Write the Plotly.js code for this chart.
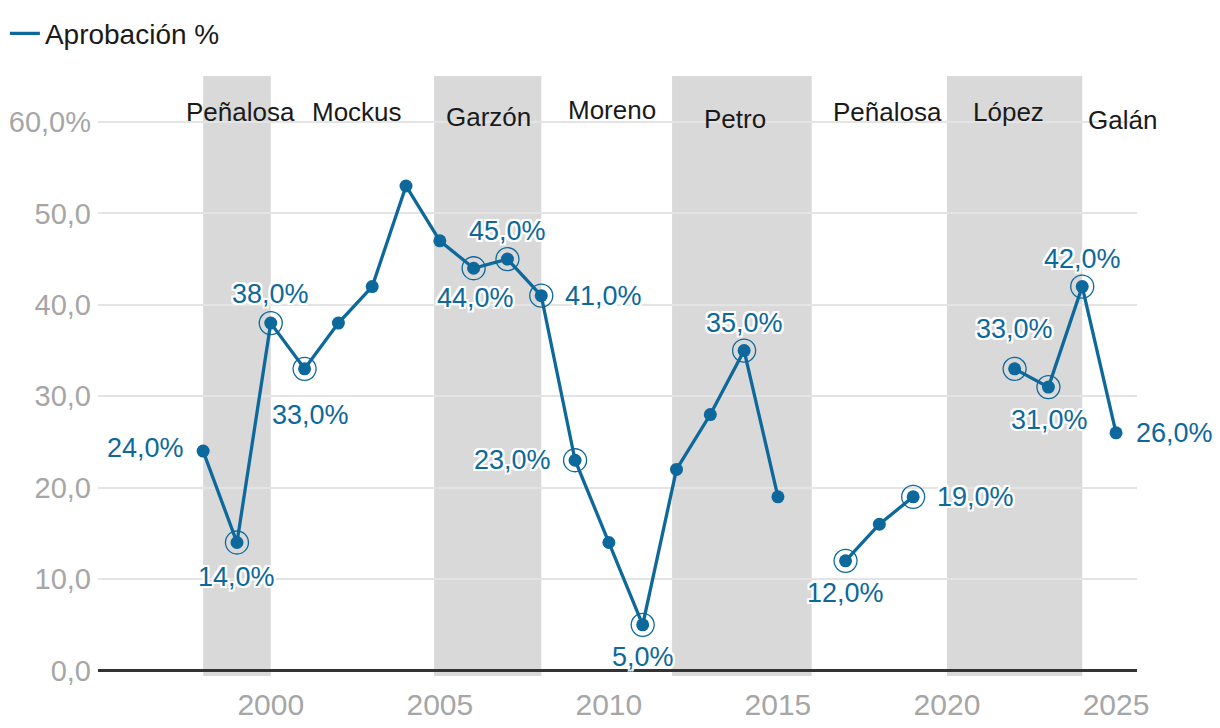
<!DOCTYPE html>
<html>
<head>
<meta charset="utf-8">
<script src="https://cdn.plot.ly/plotly-3.0.1.min.js"></script>
<style>html,body{margin:0;padding:0;background:#fff;}#chart{width:1220px;height:728px;}</style>
</head>
<body>
<div id="chart"></div>
<script>
// ---- data ----
const years = [1998,1999,2000,2001,2002,2003,2004,2005,2006,2007,2008,2009,2010,2011,2012,2013,2014,2015,2016,2017,2018,2019,2020,2021,2022,2023,2024,2025];
const approval = [24,14,38,33,38,42,53,47,44,45,41,23,14,5,22,28,35,19,null,12,16,19,null,null,33,31,42,26];
const highlightedYears = [1999,2000,2001,2006,2007,2008,2009,2011,2014,2017,2019,2022,2023,2024];
const labeledYears = [1998,1999,2000,2001,2006,2007,2008,2009,2011,2014,2017,2019,2022,2023,2024,2025];
const mayors = ['Peñalosa','Mockus','Garzón','Moreno','Petro','Peñalosa','López','Galán'];
const bandStarts = [1998, 2004.83, 2011.87, 2020];
const bandEnds = [2000, 2008, 2016, 2024];
const yTickVals = [0,10,20,30,40,50,60];
const yTickText = ['0,0','10,0','20,0','30,0','40,0','50,0','60,0%'];
const xTickVals = [2000,2005,2010,2015,2020,2025];
const seriesName = 'Aprobación %';

// ---- styling / placement ----
const BLUE = '#0d689b';
const FONT = 'Liberation Sans, Arial, sans-serif';
const mayorLabelPos = [[1999.1,61.1],[2002.56,61.1],[2006.43,60.6],[2010.1,61.3],[2013.73,60.3],[2018.23,61.1],[2021.81,61.1],[2025.18,60.2]];
// placement: [xanchor, dx, dy] (dy positive = up)
const labelPlace = {
  1998:['right',-17,3], 1999:['center',0,-34], 2000:['center',0,29], 2001:['center',6,-46],
  2006:['center',2,-30], 2007:['center',0,28], 2008:['left',22,0], 2009:['right',-22,0],
  2011:['center',0,-32], 2014:['center',0,28], 2017:['center',0,-32], 2019:['left',22,0],
  2022:['center',0,40], 2023:['center',1,-33], 2024:['center',0,28], 2025:['left',18,0]
};

function fmt(v){ return v.toFixed(1).replace('.', ',') + '%'; }
function valueAt(y){ return approval[years.indexOf(y)]; }

const halo = '2px 0 0 #fff, -2px 0 0 #fff, 0 2px 0 #fff, 0 -2px 0 #fff, 2px 2px 0 #fff, -2px -2px 0 #fff, 2px -2px 0 #fff, -2px 2px 0 #fff';

const traces = [
  {x: years, y: approval, mode: 'lines', name: seriesName, line: {color: BLUE, width: 3.3}, connectgaps: false, hoverinfo: 'skip', showlegend: true},
  {x: years, y: approval, mode: 'markers', marker: {color: BLUE, size: 13}, showlegend: false, hoverinfo: 'skip'},
  {x: highlightedYears, y: highlightedYears.map(valueAt), mode: 'markers',
   marker: {symbol: 'circle-open', size: 23, color: BLUE, line: {width: 1.3, color: BLUE}}, showlegend: false, hoverinfo: 'skip'}
];

const shapes = bandStarts.map((s, i) => ({
  type: 'rect', xref: 'x', yref: 'paper', x0: s, x1: bandEnds[i], y0: 0, y1: 1,
  fillcolor: '#d9d9d9', line: {width: 0}, layer: 'below'
}));

const annotations = [];
mayors.forEach((m, i) => {
  annotations.push({x: mayorLabelPos[i][0], y: mayorLabelPos[i][1], xref: 'x', yref: 'y', text: m, showarrow: false,
    font: {family: FONT, size: 26, color: '#1a1a1a'}, xanchor: 'center', yanchor: 'middle'});
});
labeledYears.forEach(yr => {
  const p = labelPlace[yr];
  annotations.push({x: yr, y: valueAt(yr), xref: 'x', yref: 'y', text: fmt(valueAt(yr)), showarrow: false,
    xanchor: p[0], yanchor: 'middle', xshift: p[1], yshift: p[2],
    font: {family: FONT, size: 27, color: BLUE, shadow: halo}});
});

const layout = {
  width: 1220, height: 728,
  margin: {l: 98, r: 83, t: 76, b: 52},
  paper_bgcolor: '#fff', plot_bgcolor: 'rgba(0,0,0,0)',
  font: {family: FONT},
  showlegend: true,
  legend: {xref: 'container', yref: 'container', x: 0.004, y: 0.988, xanchor: 'left', yanchor: 'top',
    orientation: 'h', font: {family: FONT, size: 28, color: '#1a1a1a'}, bgcolor: 'rgba(0,0,0,0)', itemwidth: 30},
  xaxis: {range: [1994.89, 2025.62], tickvals: xTickVals, ticktext: xTickVals.map(String), showgrid: false, zeroline: false,
    showline: false, ticks: '', ticklabelstandoff: 8, tickfont: {family: FONT, size: 30, color: '#a6a6a6'}, fixedrange: true},
  yaxis: {range: [-0.6, 65.03], tickvals: yTickVals, ticktext: yTickText, showgrid: true, gridcolor: '#e4e4e4', gridwidth: 2,
    zeroline: true, zerolinecolor: '#333', zerolinewidth: 2.5, showline: false, ticks: '', ticklabelstandoff: 6,
    tickfont: {family: FONT, size: 29, color: '#a6a6a6'}, fixedrange: true},
  shapes: shapes,
  annotations: annotations
};

Plotly.newPlot('chart', traces, layout, {displayModeBar: false, staticPlot: true});
</script>
</body>
</html>
